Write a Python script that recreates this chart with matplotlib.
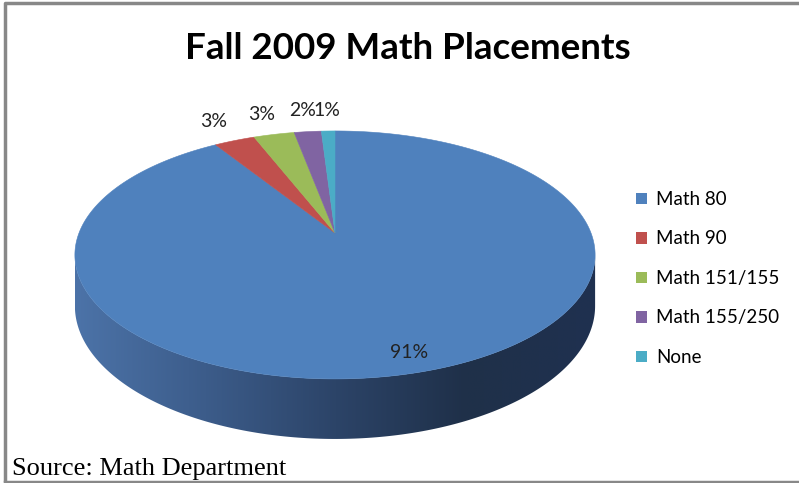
import numpy as np
import matplotlib.pyplot as plt
from matplotlib.patches import Polygon, Patch
from matplotlib.colors import LinearSegmentedColormap

# Fall 2009 placements (percent of students)
categories = ['Math 80', 'Math 90', 'Math 151/155', 'Math 155/250', 'None']
percents = [91, 3, 3, 2, 1]
colors = ['#4F81BD', '#C0504D', '#9BBB59', '#8064A2', '#4BACC6']

# geometry of the tilted disc, in pixels (axes use pixel coords)
CX, CY = 335, 233      # pie apex on screen
K = 0.177              # perspective strength
S, T = 256.0, 120.1    # horizontal / vertical radius factors
H = 49.4               # thickness of the pie


def proj(a_deg, r=1.0, drop=0.0):
    # a_deg: angle clockwise from 12 o'clock
    a = np.radians(a_deg)
    u = r * np.sin(a)
    v = r * np.cos(a)
    d = 1 + K * v
    return CX + S * u / d, CY - T * v / d + drop / d


fig = plt.figure(figsize=(7.99, 4.83), dpi=100)
ax = fig.add_axes([0, 0, 1, 1])
ax.set_xlim(0, 799)
ax.set_ylim(483, 0)
ax.axis('off')

# side of the pie (only the front half shows), with a dark gradient
a_side = np.linspace(np.degrees(np.arccos(-K)), 360 - np.degrees(np.arccos(-K)), 200)
tx, ty = proj(a_side)
bx, by = proj(a_side[::-1], drop=H)
side = Polygon(np.column_stack([np.r_[tx, bx], np.r_[ty, by]]), closed=True,
               facecolor='none', edgecolor='none')
ax.add_patch(side)
side_cmap = LinearSegmentedColormap.from_list(
    'side', ['#4C73A8', '#3C5C8A', '#2C4468', '#1F3049', '#1F3150'])
grad = np.linspace(0, 1, 256).reshape(1, -1)
im = ax.imshow(grad, cmap=side_cmap, aspect='auto',
               extent=[tx.min(), tx.max(), by.max() + 2, ty.min()], zorder=1)
im.set_clip_path(side)

# top face wedges, clockwise from 12 o'clock
fracs = np.array(percents) / sum(percents)
starts = np.r_[0, np.cumsum(fracs)[:-1]] * 360
ends = np.cumsum(fracs) * 360
for a0, a1, c in zip(starts, ends, colors):
    aa = np.linspace(a0, a1, max(int(a1 - a0) * 2, 4))
    px, py = proj(aa)
    wedge = Polygon(np.column_stack([np.r_[CX, px], np.r_[CY, py]]), closed=True,
                    facecolor=c, edgecolor=c, linewidth=0.4, zorder=2)
    ax.add_patch(wedge)

# percentage labels: big slice inside, small ones outside
for a0, a1, p in zip(starts, ends, percents):
    mid = (a0 + a1) / 2
    r = 0.88 if p > 50 else 1.25
    lx, ly = proj(mid, r=r)
    ax.text(lx, ly, f'{p}%', ha='center', va='center', fontsize=14,
            family='Lato', color='#222222', zorder=3)

ax.text(408, 59, 'Fall 2009 Math Placements', ha='center', va='baseline',
        fontsize=26.5, fontweight='bold', family='Lato')

handles = [Patch(facecolor=c, edgecolor='none') for c in colors]
ax.legend(handles, categories, loc='upper left',
          bbox_to_anchor=(636 / 799, 1 - 191 / 483), frameon=False,
          prop={'family': 'Lato', 'size': 13.5}, borderpad=0, borderaxespad=0,
          handlelength=0.56, handleheight=0.56, handletextpad=0.53,
          labelspacing=1.2)

ax.text(12, 475, 'Source: Math Department', ha='left', va='baseline',
        fontsize=19, family='Liberation Serif')

# chart frame
ax.plot([4.5, 4.5, 799], [482, 2.5, 2.5], color='#888888', lw=2.5,
        solid_capstyle='butt')
ax.plot([4.5, 799], [481.5, 481.5], color='#888888', lw=2.5)

fig.savefig('out.png', dpi=100)
